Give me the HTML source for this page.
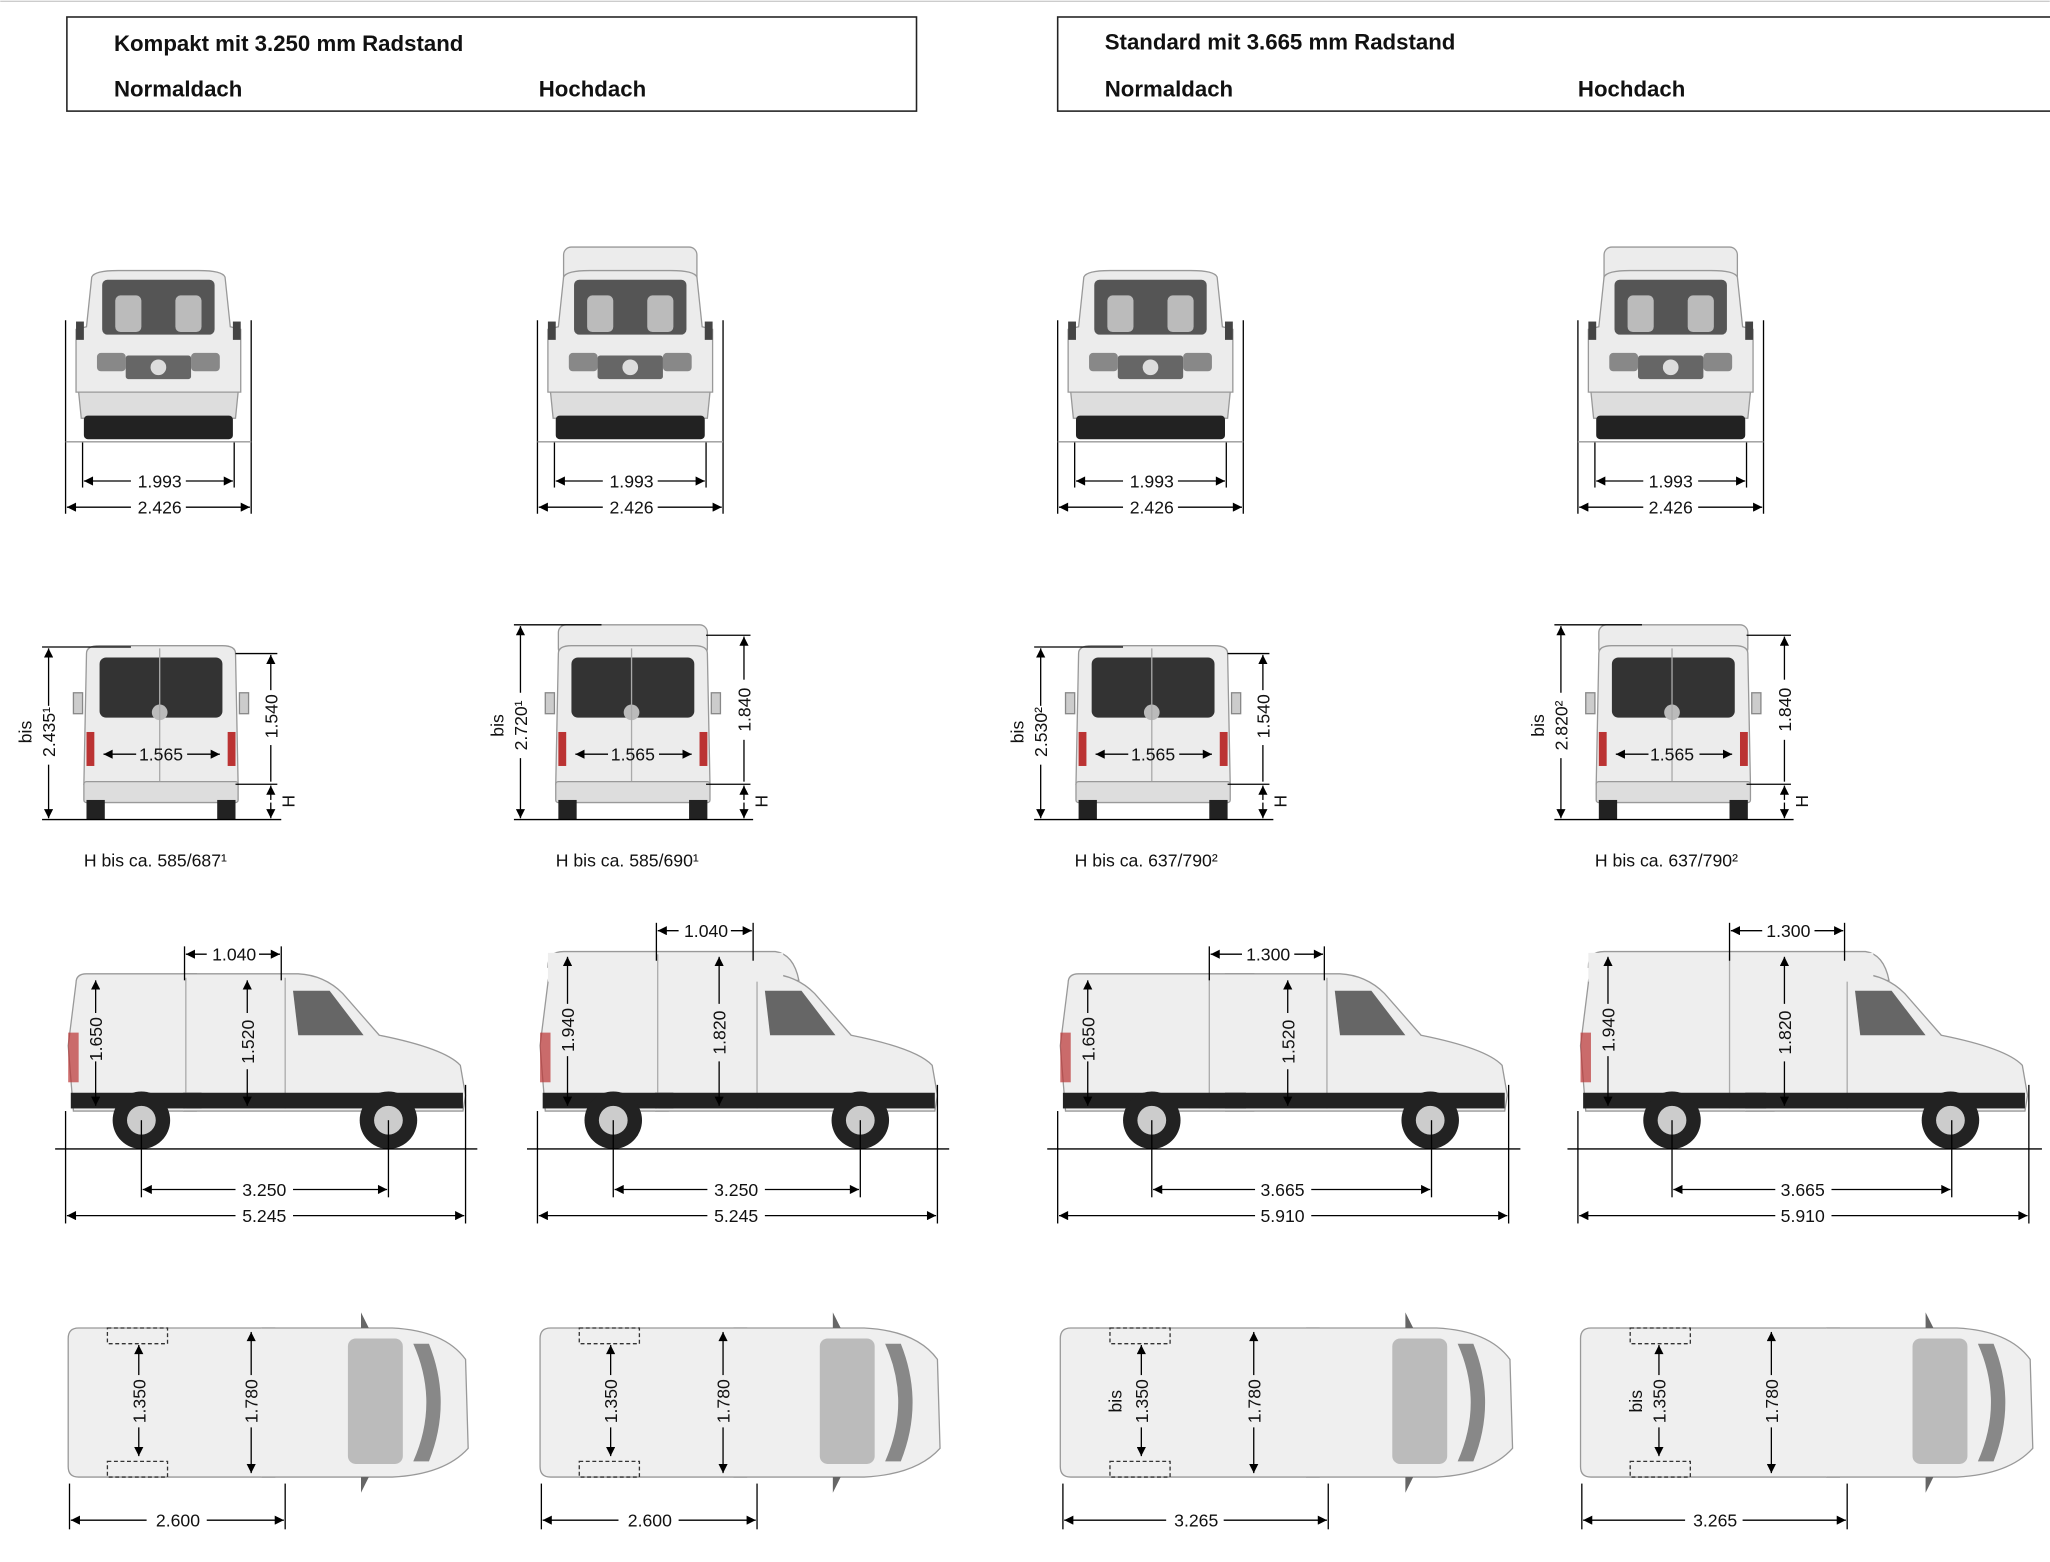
<!DOCTYPE html>
<html><head><meta charset="utf-8"><style>
html,body{margin:0;padding:0;background:#fff;}
svg{display:block;}
text{font-family:"Liberation Sans",sans-serif;fill:#111;}
.t{font-size:13.5px;}
.h{font-size:17px;font-weight:bold;}
</style></head><body>
<svg width="2050" height="1562" viewBox="0 0 1568 1195" xmlns="http://www.w3.org/2000/svg">
<defs>
<marker id="a" viewBox="0 0 10 10" refX="10" refY="5" markerWidth="9" markerHeight="7" orient="auto-start-reverse" markerUnits="userSpaceOnUse"><path d="M0,0L10,5L0,10z" fill="#000"/></marker>
<g id="front">
<path d="M70,212 Q72,207 90,207 L152,207 Q170,207 172,212 L176,250 L184,252 L184,300 L58,300 L58,252 L66,250 Z" fill="#ececec" stroke="#999" stroke-width="1"/>
<rect x="78" y="214" width="86" height="42" rx="4" fill="#555"/>
<rect x="88" y="226" width="20" height="28" rx="4" fill="#bbb"/>
<rect x="134" y="226" width="20" height="28" rx="4" fill="#bbb"/>
<rect x="74" y="270" width="22" height="14" rx="3" fill="#888"/>
<rect x="146" y="270" width="22" height="14" rx="3" fill="#888"/>
<rect x="96" y="272" width="50" height="18" rx="2" fill="#666"/>
<circle cx="121" cy="281" r="6" fill="#ddd"/>
<path d="M60,300 L182,300 L180,320 L62,320 Z" fill="#ddd" stroke="#999"/>
<rect x="64" y="318" width="114" height="18" rx="3" fill="#222"/>
<rect x="58" y="246" width="6" height="14" fill="#444"/>
<rect x="178" y="246" width="6" height="14" fill="#444"/>
</g>
<g id="rear">
<path d="M66,500 Q66,494 76,494 L170,494 Q180,494 180,500 L182,600 L64,600 Z" fill="#ececec" stroke="#999"/>
<rect x="76" y="503" width="94" height="46" rx="5" fill="#333"/>
<circle cx="122" cy="545" r="6" fill="#bbb"/>
<line x1="122" y1="496" x2="122" y2="600" stroke="#aaa"/>
<rect x="66" y="560" width="6" height="26" fill="#b33"/>
<rect x="174" y="560" width="6" height="26" fill="#b33"/>
<rect x="64" y="598" width="118" height="16" rx="2" fill="#ddd" stroke="#999"/>
<rect x="66" y="612" width="14" height="15" fill="#222"/>
<rect x="166" y="612" width="14" height="15" fill="#222"/>
<rect x="56" y="530" width="7" height="16" fill="#ccc" stroke="#888"/>
<rect x="183" y="530" width="7" height="16" fill="#ccc" stroke="#888"/>
</g>
<g id="cab">
<path d="M140,745 L228,745 Q248,746 262,760 L290,792 Q340,802 352,815 L356,838 L354,850 L140,850" fill="#eeeeee" stroke="#999"/>
<path d="M224,758 L252,758 L278,792 L228,792 Z" fill="#666"/>
<line x1="218" y1="748" x2="218" y2="848" stroke="#aaa"/>
<rect x="140" y="836" width="214" height="12" fill="#222"/>
<circle cx="297" cy="857" r="22" fill="#222"/><circle cx="297" cy="857" r="11" fill="#ccc"/>
</g>
<g id="topcab">
<path d="M200,1016 L300,1016 Q340,1018 356,1040 L358,1108 Q340,1128 300,1130 L200,1130" fill="#efefef" stroke="#999"/>
<rect x="266" y="1024" width="42" height="96" rx="6" fill="#bbb"/>
<path d="M316,1028 Q336,1073 316,1118 L328,1118 Q346,1073 328,1028 Z" fill="#888"/>
<path d="M276,1004 L282,1016 L276,1016 Z" fill="#666"/>
<path d="M276,1142 L282,1130 L276,1130 Z" fill="#666"/>
</g>
</defs>

<line x1="0" y1="1" x2="1568" y2="1" stroke="#ccc"/>
<rect x="51" y="13" width="650" height="72" fill="none" stroke="#222" stroke-width="1.2"/>
<rect x="809" y="13" width="770" height="72" fill="none" stroke="#222" stroke-width="1.2"/>
<text class="h" x="87" y="39">Kompakt mit 3.250 mm Radstand</text>
<text class="h" x="87" y="74">Normaldach</text>
<text class="h" x="412" y="74">Hochdach</text>
<text class="h" x="845" y="38">Standard mit 3.665 mm Radstand</text>
<text class="h" x="845" y="74">Normaldach</text>
<text class="h" x="1207" y="74">Hochdach</text>

<!-- col1 -->
<use href="#front"/>
<use href="#rear"/>
<path d="M58,752 Q58,745 66,745 L150,745 L150,850 L56,850 L52,800 Z" fill="#eee" stroke="#999"/>
<use href="#cab"/>
<line x1="142" y1="748" x2="142" y2="848" stroke="#aaa"/>
<rect x="54" y="836" width="100" height="12" fill="#222"/>
<rect x="52" y="790" width="8" height="38" fill="#b33" opacity=".7"/>
<circle cx="108" cy="857" r="22" fill="#222"/><circle cx="108" cy="857" r="11" fill="#ccc"/>
<path d="M60,1016 L210,1016 L210,1130 L60,1130 Q52,1130 52,1122 L52,1024 Q52,1016 60,1016 Z" fill="#efefef" stroke="#999"/>
<use href="#topcab"/>
<rect x="82" y="1016" width="46" height="12" fill="none" stroke="#333" stroke-dasharray="3,2"/>
<rect x="82" y="1118" width="46" height="12" fill="none" stroke="#333" stroke-dasharray="3,2"/>

<!-- col2 -->
<g transform="translate(361,0)">
<rect x="70" y="189" width="102" height="30" rx="6" fill="#ececec" stroke="#999"/>
<use href="#front"/>
<rect x="66" y="478" width="114" height="24" rx="6" fill="#ececec" stroke="#999"/>
<use href="#rear"/>
<path d="M58,740 Q58,728 70,728 L232,728 Q246,730 250,750 L150,760 Z" fill="#eee" stroke="#999"/>
<path d="M58,752 Q58,745 66,745 L150,745 L150,850 L56,850 L52,800 Z" fill="#eee" stroke="#999"/>
<use href="#cab"/>
<rect x="58" y="729" width="180" height="22" fill="#eee"/>
<line x1="142" y1="730" x2="142" y2="848" stroke="#aaa"/>
<rect x="54" y="836" width="100" height="12" fill="#222"/>
<rect x="52" y="790" width="8" height="38" fill="#b33" opacity=".7"/>
<circle cx="108" cy="857" r="22" fill="#222"/><circle cx="108" cy="857" r="11" fill="#ccc"/>
<path d="M60,1016 L210,1016 L210,1130 L60,1130 Q52,1130 52,1122 L52,1024 Q52,1016 60,1016 Z" fill="#efefef" stroke="#999"/>
<use href="#topcab"/>
<rect x="82" y="1016" width="46" height="12" fill="none" stroke="#333" stroke-dasharray="3,2"/>
<rect x="82" y="1118" width="46" height="12" fill="none" stroke="#333" stroke-dasharray="3,2"/>
</g>

<!-- col3 -->
<g transform="translate(759,0)">
<use href="#front"/>
<use href="#rear"/>
<path d="M58,752 Q58,745 66,745 L200,745 L200,850 L56,850 L52,800 Z" fill="#eee" stroke="#999"/>
<g transform="translate(38,0)"><use href="#cab"/></g>
<line x1="166" y1="748" x2="166" y2="848" stroke="#aaa"/>
<rect x="54" y="836" width="140" height="12" fill="#222"/>
<rect x="52" y="790" width="8" height="38" fill="#b33" opacity=".7"/>
<circle cx="122" cy="857" r="22" fill="#222"/><circle cx="122" cy="857" r="11" fill="#ccc"/>
<path d="M60,1016 L250,1016 L250,1130 L60,1130 Q52,1130 52,1122 L52,1024 Q52,1016 60,1016 Z" fill="#efefef" stroke="#999"/>
<g transform="translate(40,0)"><use href="#topcab"/></g>
<rect x="90" y="1016" width="46" height="12" fill="none" stroke="#333" stroke-dasharray="3,2"/>
<rect x="90" y="1118" width="46" height="12" fill="none" stroke="#333" stroke-dasharray="3,2"/>
</g>

<!-- col4 -->
<g transform="translate(1157,0)">
<rect x="70" y="189" width="102" height="30" rx="6" fill="#ececec" stroke="#999"/>
<use href="#front"/>
<rect x="66" y="478" width="114" height="24" rx="6" fill="#ececec" stroke="#999"/>
<use href="#rear"/>
<path d="M58,740 Q58,728 70,728 L270,728 Q284,730 288,750 L200,760 Z" fill="#eee" stroke="#999"/>
<path d="M58,752 Q58,745 66,745 L200,745 L200,850 L56,850 L52,800 Z" fill="#eee" stroke="#999"/>
<g transform="translate(38,0)"><use href="#cab"/></g>
<rect x="58" y="729" width="218" height="22" fill="#eee"/>
<line x1="166" y1="730" x2="166" y2="848" stroke="#aaa"/>
<rect x="54" y="836" width="140" height="12" fill="#222"/>
<rect x="52" y="790" width="8" height="38" fill="#b33" opacity=".7"/>
<circle cx="122" cy="857" r="22" fill="#222"/><circle cx="122" cy="857" r="11" fill="#ccc"/>
<path d="M60,1016 L250,1016 L250,1130 L60,1130 Q52,1130 52,1122 L52,1024 Q52,1016 60,1016 Z" fill="#efefef" stroke="#999"/>
<g transform="translate(40,0)"><use href="#topcab"/></g>
<rect x="90" y="1016" width="46" height="12" fill="none" stroke="#333" stroke-dasharray="3,2"/>
<rect x="90" y="1118" width="46" height="12" fill="none" stroke="#333" stroke-dasharray="3,2"/>
</g>

<!-- Dimensions -->
<g stroke="#000" stroke-width="1" fill="none">
<g id="fd">
<line x1="50" y1="245" x2="50" y2="393"/><line x1="192" y1="245" x2="192" y2="393"/>
<line x1="63" y1="338" x2="63" y2="373"/><line x1="179" y1="338" x2="179" y2="373"/>
<line x1="50" y1="338" x2="192" y2="338" stroke="#999"/>
<line x1="64" y1="368" x2="100" y2="368" marker-start="url(#a)"/><line x1="142" y1="368" x2="178" y2="368" marker-end="url(#a)"/>
<line x1="51" y1="388" x2="100" y2="388" marker-start="url(#a)"/><line x1="142" y1="388" x2="191" y2="388" marker-end="url(#a)"/>
<line x1="79" y1="577" x2="104" y2="577" marker-start="url(#a)"/><line x1="143" y1="577" x2="168" y2="577" marker-end="url(#a)"/>
<line x1="32" y1="627" x2="215" y2="627"/>
</g>
<use href="#fd" transform="translate(361,0)"/>
<use href="#fd" transform="translate(759,0)"/>
<use href="#fd" transform="translate(1157,0)"/>

<g id="rn">
<line x1="32" y1="495" x2="100" y2="495"/>
<line x1="37" y1="496" x2="37" y2="540" marker-start="url(#a)"/><line x1="37" y1="585" x2="37" y2="626" marker-end="url(#a)"/>
<line x1="180" y1="500" x2="212" y2="500"/>
<line x1="207" y1="501" x2="207" y2="528" marker-start="url(#a)"/><line x1="207" y1="570" x2="207" y2="598"/>
<line x1="180" y1="600" x2="212" y2="600"/>
<line x1="207" y1="601" x2="207" y2="612" marker-start="url(#a)"/><line x1="207" y1="614" x2="207" y2="626" marker-end="url(#a)"/>
</g>
<use href="#rn" transform="translate(759,0)"/>
<g id="rh">
<line x1="393" y1="478" x2="460" y2="478"/>
<line x1="398" y1="479" x2="398" y2="530" marker-start="url(#a)"/><line x1="398" y1="580" x2="398" y2="626" marker-end="url(#a)"/>
<line x1="540" y1="486" x2="574" y2="486"/>
<line x1="569" y1="487" x2="569" y2="520" marker-start="url(#a)"/><line x1="569" y1="566" x2="569" y2="598"/>
<line x1="540" y1="600" x2="574" y2="600"/>
<line x1="569" y1="601" x2="569" y2="612" marker-start="url(#a)"/><line x1="569" y1="614" x2="569" y2="626" marker-end="url(#a)"/>
</g>
<use href="#rh" transform="translate(796,0)"/>

<line x1="42" y1="879" x2="365" y2="879"/>
<line x1="403" y1="879" x2="726" y2="879"/>
<line x1="801" y1="879" x2="1163" y2="879"/>
<line x1="1199" y1="879" x2="1562" y2="879"/>
<g id="sd1">
<line x1="50" y1="850" x2="50" y2="936"/><line x1="356" y1="830" x2="356" y2="936"/>
<line x1="108" y1="857" x2="108" y2="916"/><line x1="297" y1="857" x2="297" y2="916"/>
<line x1="109" y1="910" x2="180" y2="910" marker-start="url(#a)"/><line x1="224" y1="910" x2="296" y2="910" marker-end="url(#a)"/>
<line x1="51" y1="930" x2="180" y2="930" marker-start="url(#a)"/><line x1="224" y1="930" x2="355" y2="930" marker-end="url(#a)"/>
</g>
<use href="#sd1" transform="translate(361,0)"/>
<g id="sd3">
<line x1="809" y1="850" x2="809" y2="936"/><line x1="1154" y1="830" x2="1154" y2="936"/>
<line x1="881" y1="857" x2="881" y2="916"/><line x1="1095" y1="857" x2="1095" y2="916"/>
<line x1="882" y1="910" x2="960" y2="910" marker-start="url(#a)"/><line x1="1003" y1="910" x2="1094" y2="910" marker-end="url(#a)"/>
<line x1="810" y1="930" x2="960" y2="930" marker-start="url(#a)"/><line x1="1003" y1="930" x2="1153" y2="930" marker-end="url(#a)"/>
</g>
<use href="#sd3" transform="translate(398,0)"/>
<line x1="141" y1="724" x2="141" y2="750"/><line x1="215" y1="724" x2="215" y2="750"/>
<line x1="142" y1="730" x2="158" y2="730" marker-start="url(#a)"/><line x1="198" y1="730" x2="214" y2="730" marker-end="url(#a)"/>
<line x1="502" y1="706" x2="502" y2="735"/><line x1="576" y1="706" x2="576" y2="735"/>
<line x1="503" y1="712" x2="519" y2="712" marker-start="url(#a)"/><line x1="559" y1="712" x2="575" y2="712" marker-end="url(#a)"/>
<line x1="925" y1="724" x2="925" y2="750"/><line x1="1013" y1="724" x2="1013" y2="750"/>
<line x1="926" y1="730" x2="950" y2="730" marker-start="url(#a)"/><line x1="990" y1="730" x2="1012" y2="730" marker-end="url(#a)"/>
<line x1="1323" y1="706" x2="1323" y2="735"/><line x1="1411" y1="706" x2="1411" y2="735"/>
<line x1="1324" y1="712" x2="1348" y2="712" marker-start="url(#a)"/><line x1="1388" y1="712" x2="1410" y2="712" marker-end="url(#a)"/>
<line x1="73" y1="750" x2="73" y2="775" marker-start="url(#a)"/><line x1="73" y1="812" x2="73" y2="846" marker-end="url(#a)"/>
<line x1="189" y1="750" x2="189" y2="775" marker-start="url(#a)"/><line x1="189" y1="818" x2="189" y2="846" marker-end="url(#a)"/>
<line x1="434" y1="732" x2="434" y2="768" marker-start="url(#a)"/><line x1="434" y1="808" x2="434" y2="846" marker-end="url(#a)"/>
<line x1="550" y1="732" x2="550" y2="768" marker-start="url(#a)"/><line x1="550" y1="812" x2="550" y2="846" marker-end="url(#a)"/>
<line x1="832" y1="750" x2="832" y2="775" marker-start="url(#a)"/><line x1="832" y1="812" x2="832" y2="846" marker-end="url(#a)"/>
<line x1="985" y1="750" x2="985" y2="775" marker-start="url(#a)"/><line x1="985" y1="818" x2="985" y2="846" marker-end="url(#a)"/>
<line x1="1230" y1="732" x2="1230" y2="768" marker-start="url(#a)"/><line x1="1230" y1="808" x2="1230" y2="846" marker-end="url(#a)"/>
<line x1="1365" y1="732" x2="1365" y2="768" marker-start="url(#a)"/><line x1="1365" y1="812" x2="1365" y2="846" marker-end="url(#a)"/>

<g id="td">
<line x1="106" y1="1029" x2="106" y2="1052" marker-start="url(#a)"/><line x1="106" y1="1092" x2="106" y2="1114" marker-end="url(#a)"/>
<line x1="192" y1="1019" x2="192" y2="1052" marker-start="url(#a)"/><line x1="192" y1="1092" x2="192" y2="1127" marker-end="url(#a)"/>
</g>
<use href="#td" transform="translate(361,0)"/>
<use href="#td" transform="translate(767,0)"/>
<use href="#td" transform="translate(1163,0)"/>
<line x1="53" y1="1135" x2="53" y2="1170"/><line x1="218" y1="1135" x2="218" y2="1170"/>
<line x1="54" y1="1163" x2="112" y2="1163" marker-start="url(#a)"/><line x1="158" y1="1163" x2="217" y2="1163" marker-end="url(#a)"/>
<line x1="414" y1="1135" x2="414" y2="1170"/><line x1="579" y1="1135" x2="579" y2="1170"/>
<line x1="415" y1="1163" x2="473" y2="1163" marker-start="url(#a)"/><line x1="519" y1="1163" x2="578" y2="1163" marker-end="url(#a)"/>
<line x1="813" y1="1135" x2="813" y2="1170"/><line x1="1016" y1="1135" x2="1016" y2="1170"/>
<line x1="814" y1="1163" x2="892" y2="1163" marker-start="url(#a)"/><line x1="936" y1="1163" x2="1015" y2="1163" marker-end="url(#a)"/>
<line x1="1210" y1="1135" x2="1210" y2="1170"/><line x1="1413" y1="1135" x2="1413" y2="1170"/>
<line x1="1211" y1="1163" x2="1289" y2="1163" marker-start="url(#a)"/><line x1="1333" y1="1163" x2="1412" y2="1163" marker-end="url(#a)"/>
</g>

<g class="t" text-anchor="middle">
<text x="122" y="373">1.993</text><text x="122" y="393">2.426</text>
<text x="483" y="373">1.993</text><text x="483" y="393">2.426</text>
<text x="881" y="373">1.993</text><text x="881" y="393">2.426</text>
<text x="1278" y="373">1.993</text><text x="1278" y="393">2.426</text>
<text x="123" y="582">1.565</text><text x="484" y="582">1.565</text><text x="882" y="582">1.565</text><text x="1279" y="582">1.565</text>
<text x="179" y="735">1.040</text><text x="540" y="717">1.040</text><text x="970" y="735">1.300</text><text x="1368" y="717">1.300</text>
<text x="202" y="915">3.250</text><text x="202" y="935">5.245</text>
<text x="563" y="915">3.250</text><text x="563" y="935">5.245</text>
<text x="981" y="915">3.665</text><text x="981" y="935">5.910</text>
<text x="1379" y="915">3.665</text><text x="1379" y="935">5.910</text>
<text x="136" y="1168">2.600</text><text x="497" y="1168">2.600</text>
<text x="915" y="1168">3.265</text><text x="1312" y="1168">3.265</text>
</g>
<g class="t">
<text x="64" y="663">H bis ca. 585/687¹</text>
<text x="425" y="663">H bis ca. 585/690¹</text>
<text x="822" y="663">H bis ca. 637/790²</text>
<text x="1220" y="663">H bis ca. 637/790²</text>
</g>
<g class="t" text-anchor="middle">
<text transform="translate(42,560) rotate(-90)">2.435¹</text><text transform="translate(24,560) rotate(-90)">bis</text>
<text transform="translate(212,548) rotate(-90)">1.540</text><text transform="translate(225,613) rotate(-90)">H</text>
<text transform="translate(403,555) rotate(-90)">2.720¹</text><text transform="translate(385,555) rotate(-90)">bis</text>
<text transform="translate(574,543) rotate(-90)">1.840</text><text transform="translate(587,613) rotate(-90)">H</text>
<text transform="translate(801,560) rotate(-90)">2.530²</text><text transform="translate(783,560) rotate(-90)">bis</text>
<text transform="translate(971,548) rotate(-90)">1.540</text><text transform="translate(984,613) rotate(-90)">H</text>
<text transform="translate(1199,555) rotate(-90)">2.820²</text><text transform="translate(1181,555) rotate(-90)">bis</text>
<text transform="translate(1370,543) rotate(-90)">1.840</text><text transform="translate(1383,613) rotate(-90)">H</text>
<text transform="translate(78,795) rotate(-90)">1.650</text><text transform="translate(194,797) rotate(-90)">1.520</text>
<text transform="translate(439,788) rotate(-90)">1.940</text><text transform="translate(555,790) rotate(-90)">1.820</text>
<text transform="translate(837,795) rotate(-90)">1.650</text><text transform="translate(990,797) rotate(-90)">1.520</text>
<text transform="translate(1235,788) rotate(-90)">1.940</text><text transform="translate(1370,790) rotate(-90)">1.820</text>
<text transform="translate(111,1072) rotate(-90)">1.350</text><text transform="translate(197,1072) rotate(-90)">1.780</text>
<text transform="translate(472,1072) rotate(-90)">1.350</text><text transform="translate(558,1072) rotate(-90)">1.780</text>
<text transform="translate(878,1072) rotate(-90)">1.350</text><text transform="translate(964,1072) rotate(-90)">1.780</text><text transform="translate(858,1072) rotate(-90)">bis</text>
<text transform="translate(1274,1072) rotate(-90)">1.350</text><text transform="translate(1360,1072) rotate(-90)">1.780</text><text transform="translate(1256,1072) rotate(-90)">bis</text>
</g>
</svg>
</body></html>
